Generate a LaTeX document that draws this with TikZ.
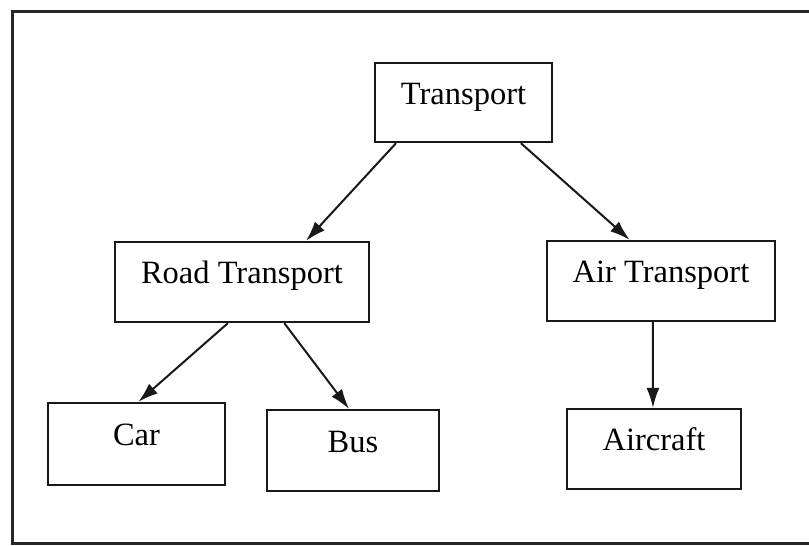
\documentclass[tikz,border=0pt]{standalone}
\usepackage{fontspec}
\setmainfont{Liberation Serif}
\usetikzlibrary{arrows.meta,calc}

\tikzset{
  box/.style={draw=black!90, line width=2.3pt, fill=white, inner sep=0pt,
    text height=20pt, text depth=17pt,
    font=\fontsize{32.5}{37}\selectfont},
  link/.style={draw=black!90, line width=2pt, -{Latex[length=20pt,width=13pt]}},
  frame/.style={draw=black!85, line width=3pt}
}

\begin{document}
\begin{tikzpicture}[x=1pt,y=-1pt]
  \useasboundingbox (0,0) rectangle (809,546);
  \clip (0,0) rectangle (809,546);

  % outer frame
  \draw[frame] (12,11) rectangle (830,543);

  % boxes
  \node[box, minimum width=177pt, minimum height=79pt] (T)  at (463.5,102.5) {Transport};
  \node[box, minimum width=254pt, minimum height=80pt] (R)  at (242,282)     {Road Transport};
  \node[box, minimum width=228pt, minimum height=80pt] (A)  at (661,281)     {Air Transport};
  \node[box, minimum width=177pt, minimum height=82pt] (C)  at (136.5,444)   {Car};
  \node[box, minimum width=172pt, minimum height=81pt] (B)  at (353,450.5)   {Bus};
  \node[box, minimum width=174pt, minimum height=80pt] (AC) at (654,449)     {Aircraft};

  % connectors
  \draw[link] ($(T.south west)!0.124!(T.south east)$) -- ($(R.north west)!0.75!(R.north east)$);
  \draw[link] ($(T.south west)!0.82!(T.south east)$)  -- ($(A.north west)!0.364!(A.north east)$);
  \draw[link] ($(R.south west)!0.445!(R.south east)$) -- ($(C.north west)!0.51!(C.north east)$);
  \draw[link] ($(R.south west)!0.665!(R.south east)$) -- ($(B.north west)!0.477!(B.north east)$);
  \draw[link] ($(A.south west)!0.465!(A.south east)$) -- ($(AC.north west)!0.494!(AC.north east)$);
\end{tikzpicture}
\end{document}
